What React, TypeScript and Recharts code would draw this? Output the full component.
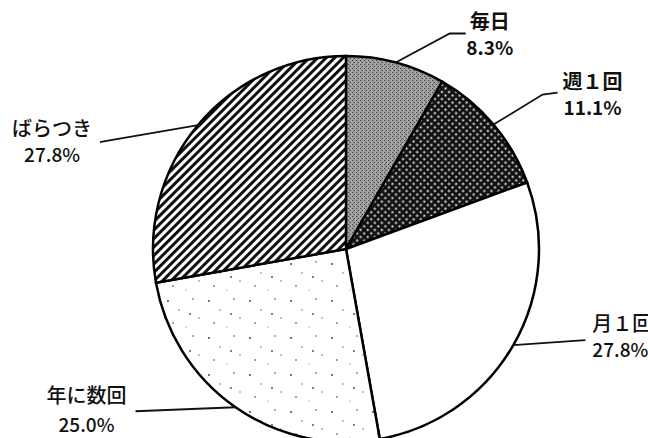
import React from "react";
import { PieChart, Pie, Cell } from "recharts";

const categories = ["毎日", "週１回", "月１回", "年に数回", "ばらつき"];
const values = [8.3, 11.1, 27.8, 25.0, 27.8];
const fills = ["url(#pDaily)", "url(#pWeekly)", "#ffffff", "url(#pYearly)", "url(#pHatch)"];
const weights = [700, 700, 500, 500, 500];

// label layout: leader-line offsets relative to arc anchor, text offsets
const labelLayout = [
  { pts: [[54, -29], [70, -29]], tx: 94, ty1: -34, ty2: -8, anchor: "middle" },
  { pts: [[49, -30], [64, -32]], tx: 99, ty1: -36, ty2: -10, anchor: "middle" },
  { pts: [[72, -5]], tx: 79, ty1: -14, ty2: 12, anchor: "start" },
  { pts: [[-100, 4]], tx: -149, ty1: -4, ty2: 25, anchor: "middle" },
  { pts: [[-93, 16], [-98, 17]], tx: -146, ty1: 11, ty2: 37, anchor: "middle" },
];

const data = categories.map((name, i) => ({ name, value: values[i] }));

const RAD = Math.PI / 180;
const FONT = "'Noto Sans CJK JP', 'Noto Sans', sans-serif";

const renderLabel = (props: any) => {
  const { cx, cy, midAngle, outerRadius, index } = props;
  const ax = cx + outerRadius * Math.cos(-midAngle * RAD);
  const ay = cy + outerRadius * Math.sin(-midAngle * RAD);
  const L = labelLayout[index];
  const pts = [[ax, ay], ...L.pts.map(([dx, dy]) => [ax + dx, ay + dy])];
  const d = pts.map((p, i) => `${i === 0 ? "M" : "L"}${p[0]},${p[1]}`).join(" ");
  return (
    <g key={`lbl-${index}`}>
      <path d={d} stroke="#111" strokeWidth={1.8} fill="none" />
      <text
        x={ax + L.tx}
        y={ay + L.ty1}
        textAnchor={L.anchor}
        fontFamily={FONT}
        fontSize={20}
        fontWeight={weights[index]}
        fill="#111"
      >
        {categories[index]}
      </text>
      <text
        x={ax + L.tx}
        y={ay + L.ty2}
        textAnchor={L.anchor}
        fontFamily={FONT}
        fontSize={19}
        fontWeight={weights[index]}
        fill="#111"
      >
        {values[index].toFixed(1) + "%"}
      </text>
    </g>
  );
};

export default function App() {
  return (
    <div style={{ position: "absolute", left: 0, top: 0, width: 648, height: 438, background: "#fff", overflow: "hidden" }}>
      <PieChart width={648} height={438} margin={{ top: 0, right: 0, bottom: 0, left: 0 }}>
        <defs>
          <pattern id="pDaily" width="4" height="4" patternUnits="userSpaceOnUse">
            <rect width="4" height="4" fill="#a4a4a4" />
            <rect x="0" y="0" width="1" height="1" fill="#444" />
            <rect x="2" y="2" width="1" height="1" fill="#444" />
            <rect x="1" y="0" width="1" height="4" fill="#8e8e8e" />
          </pattern>
          <pattern id="pWeekly" width="5" height="5" patternUnits="userSpaceOnUse" patternTransform="rotate(45)">
            <rect width="5" height="5" fill="#111" />
            <rect x="1.6" y="1.6" width="1.9" height="1.9" fill="#fff" />
          </pattern>
          <pattern id="pHatch" width="6" height="6" patternUnits="userSpaceOnUse" patternTransform="rotate(45)">
            <rect width="6" height="6" fill="#fff" />
            <rect x="0" y="0" width="3" height="6" fill="#111" />
          </pattern>
          <pattern id="pYearly" width="41" height="37" patternUnits="userSpaceOnUse">
            <rect width="41" height="37" fill="#fff" />
            <circle cx="4" cy="5" r="0.9" fill="#333" />
            <circle cx="15" cy="14" r="0.7" fill="#555" />
            <circle cx="29" cy="3" r="0.8" fill="#444" />
            <circle cx="35" cy="22" r="0.7" fill="#555" />
            <circle cx="9" cy="27" r="0.8" fill="#333" />
            <circle cx="22" cy="31" r="0.6" fill="#666" />
            <circle cx="26" cy="18" r="0.9" fill="#444" />
          </pattern>
        </defs>
        <Pie
          data={data}
          dataKey="value"
          nameKey="name"
          cx={346}
          cy={249}
          outerRadius={193}
          startAngle={90}
          endAngle={-270}
          stroke="#000"
          strokeWidth={2.5}
          isAnimationActive={false}
          label={renderLabel}
          labelLine={false}
        >
          {data.map((d, i) => (
            <Cell key={d.name} fill={fills[i]} stroke="#000" strokeWidth={2.5} />
          ))}
        </Pie>
      </PieChart>
    </div>
  );
}
